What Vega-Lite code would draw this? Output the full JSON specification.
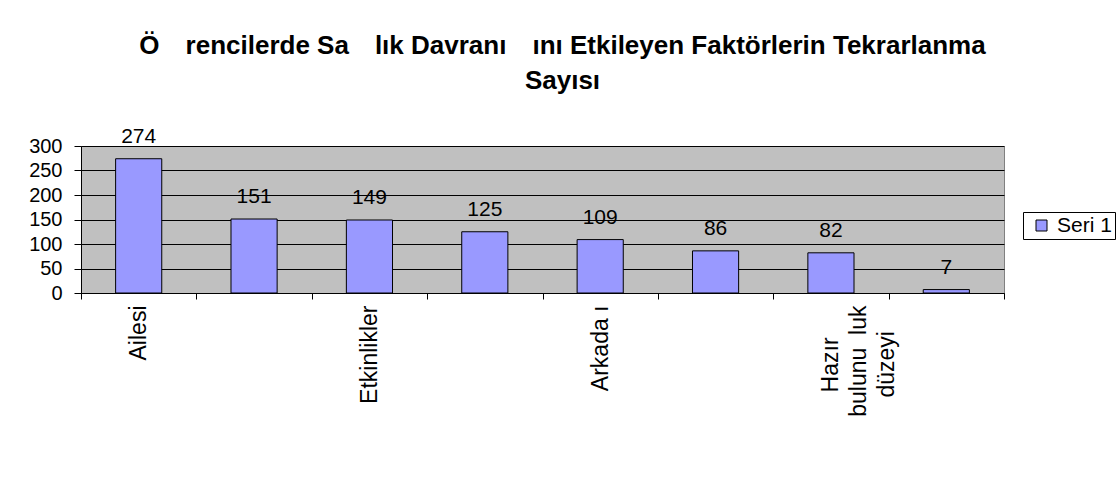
{
  "$schema": "https://vega.github.io/schema/vega-lite/v6.json",
  "width": 923,
  "height": 147,
  "autosize": {"type": "none"},
  "padding": {"left": 81, "top": 146, "right": 112, "bottom": 195},
  "background": "white",
  "title": {
    "text": ["Ö\u2003rencilerde Sa\u2003lık Davranı\u2003ını Etkileyen Faktörlerin Tekrarlanma", "Sayısı"],
    "font": "Liberation Sans",
    "fontSize": 26,
    "fontWeight": "bold",
    "lineHeight": 35,
    "color": "black",
    "anchor": "middle",
    "frame": "group",
    "dx": 20,
    "offset": 32
  },
  "data": {
    "values": [
      {"sira": 1, "sayi": 274, "seri": "Seri 1"},
      {"sira": 2, "sayi": 151, "seri": "Seri 1"},
      {"sira": 3, "sayi": 149, "seri": "Seri 1"},
      {"sira": 4, "sayi": 125, "seri": "Seri 1"},
      {"sira": 5, "sayi": 109, "seri": "Seri 1"},
      {"sira": 6, "sayi": 86, "seri": "Seri 1"},
      {"sira": 7, "sayi": 82, "seri": "Seri 1"},
      {"sira": 8, "sayi": 7, "seri": "Seri 1"}
    ]
  },
  "encoding": {
    "x": {
      "field": "sira",
      "type": "ordinal",
      "scale": {"paddingInner": 0, "paddingOuter": 0},
      "axis": {
        "title": null,
        "tickBand": "extent",
        "domainColor": "black",
        "tickColor": "black",
        "tickSize": 6,
        "labelAngle": -90,
        "labelAlign": "right",
        "labelBaseline": "middle",
        "labelFont": "Liberation Sans",
        "labelFontSize": 23,
        "labelLineHeight": 28,
        "labelColor": "black",
        "labelPadding": 6,
        "labelOverlap": false,
        "labelLimit": 300,
        "grid": false,
        "labelExpr": "datum.value == 1 ? 'Ailesi' : datum.value == 3 ? 'Etkinlikler' : datum.value == 5 ? 'Arkada ı' : datum.value == 7 ? ['Hazır\u00a0\u00a0\u00a0\u00a0\u00a0\u200b', 'bulunu\u00a0\u00a0luk', 'düzeyi\u00a0\u00a0\u00a0\u00a0\u200b'] : ''"
      }
    },
    "y": {
      "field": "sayi",
      "type": "quantitative",
      "scale": {"domain": [0, 300], "nice": false},
      "axis": {
        "title": null,
        "values": [0, 50, 100, 150, 200, 250, 300],
        "grid": true,
        "gridColor": "black",
        "gridWidth": 1,
        "gridOpacity": 1,
        "domainColor": "black",
        "tickColor": "black",
        "tickSize": 7,
        "labelPadding": 12,
        "labelFont": "Liberation Sans",
        "labelFontSize": 20,
        "labelColor": "black"
      }
    }
  },
  "layer": [
    {
      "mark": {"type": "bar", "width": {"band": 0.4}, "stroke": "black", "strokeWidth": 1},
      "encoding": {
        "color": {
          "field": "seri",
          "type": "nominal",
          "scale": {"range": ["#9999FF"]},
          "legend": {
            "title": null,
            "orient": "none",
            "legendX": 942,
            "legendY": 66,
            "strokeColor": "black",
            "fillColor": "white",
            "padding": 3,
            "symbolType": "square",
            "symbolSize": 121,
            "symbolStrokeColor": "black",
            "symbolStrokeWidth": 1,
            "symbolOpacity": 1,
            "symbolOffset": 5,
            "labelFont": "Liberation Sans",
            "labelFontSize": 21,
            "labelColor": "black",
            "labelOffset": 5
          }
        }
      }
    },
    {
      "mark": {"type": "text", "dy": -16, "baseline": "alphabetic", "font": "Liberation Sans", "fontSize": 21, "color": "black"},
      "encoding": {"text": {"field": "sayi", "type": "quantitative"}}
    }
  ],
  "config": {
    "view": {"fill": "#C0C0C0", "stroke": "#808080", "strokeWidth": 1}
  }
}
